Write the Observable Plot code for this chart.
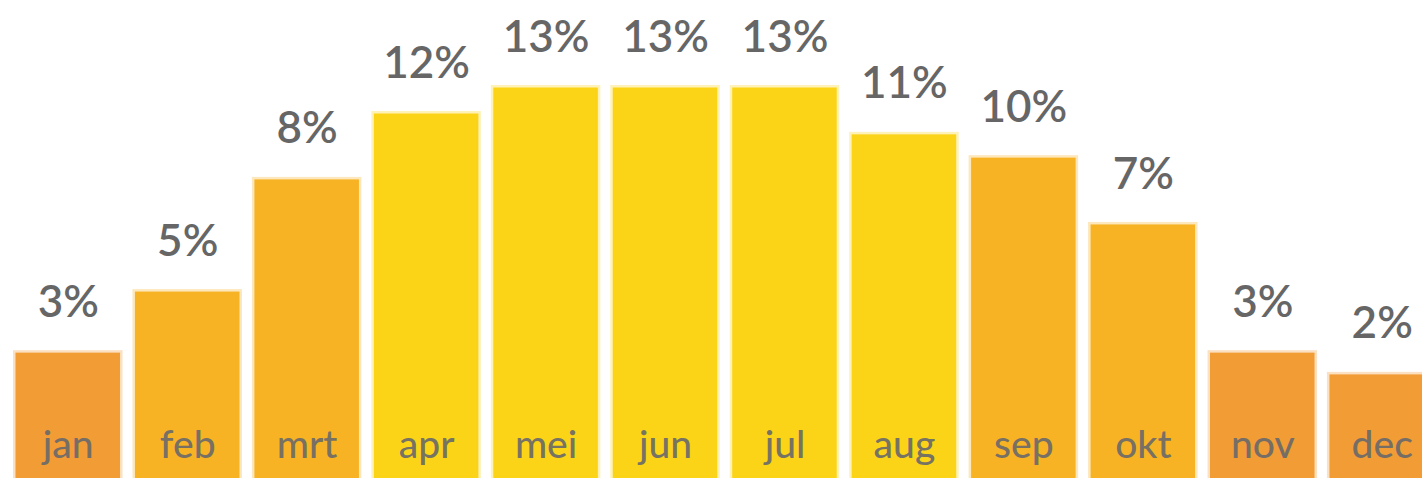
<!DOCTYPE html>
<html><head><meta charset="utf-8">
<script src="https://cdn.jsdelivr.net/npm/d3@7"></script>
<script src="https://cdn.jsdelivr.net/npm/@observablehq/plot@0.6"></script>
<style>html,body{margin:0;padding:0;background:#fff;overflow:hidden}</style>
</head><body><div id="chart"></div>
<script>
const months = ["jan","feb","mrt","apr","mei","jun","jul","aug","sep","okt","nov","dec"];
const barValues = [4.23, 6.25, 9.96, 12.14, 13.0, 13.0, 13.0, 11.45, 10.68, 8.47, 4.23, 3.51];
const shareLabels = ["3%","5%","8%","12%","13%","13%","13%","11%","10%","7%","3%","2%"];

const data = months.map((m, i) => ({month: m, value: barValues[i], label: shareLabels[i]}));

const chart = Plot.plot({
  width: 1422,
  height: 478,
  margin: 0,
  style: {background: "#fff", fontFamily: "Lato, 'Open Sans', sans-serif"},
  x: {domain: months, range: [13, 1436.5], paddingInner: 0.083, paddingOuter: 0, round: false, axis: null},
  y: {domain: [0, 13], range: [478, 85], axis: null},
  color: {type: "threshold", domain: [5, 11], range: ["#F29C36", "#F7B324", "#FBD418"]},
  marks: [
    Plot.barY(data, {x: "month", y: "value", fill: "value", fillOpacity: 0.3, insetLeft: 0, insetRight: 0}),
    Plot.barY(data, {x: "month", y: "value", fill: "value", insetTop: 2.5, insetLeft: 2.5, insetRight: 2.5}),
    Plot.text(data, {x: "month", y: "value", text: "label", dy: -48, fontSize: 44, fontWeight: 600, fill: "#666"}),
    Plot.text(data, {x: "month", text: "month", frameAnchor: "bottom", dy: -21, fontSize: 39, fontWeight: 500, fill: "#6a6a6a", fillOpacity: 0.92})
  ]
});
document.getElementById("chart").appendChild(chart);
</script>
</body></html>
